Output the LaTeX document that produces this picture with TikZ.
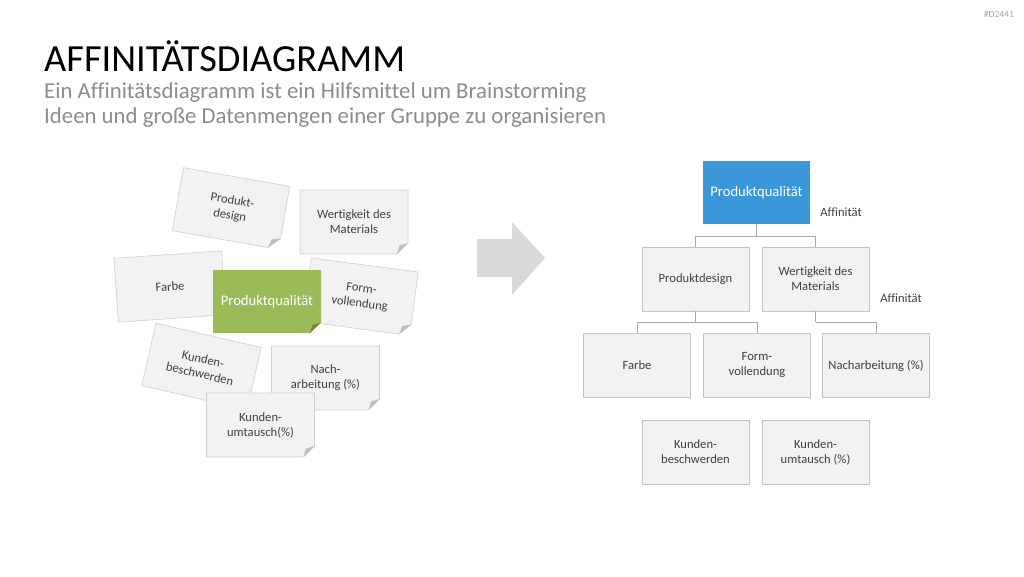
\documentclass[tikz,border=0pt]{standalone}
\usepackage{fontspec}
\setmainfont{Carlito}[Ligatures=NoCommon]
\definecolor{cardfill}{HTML}{F2F2F2}
\definecolor{cardline}{HTML}{CFCFCF}
\definecolor{foldgray}{HTML}{BFBFBF}
\definecolor{greenfill}{HTML}{9BBB59}
\definecolor{greenfold}{HTML}{6F8C37}
\definecolor{bluefill}{HTML}{3A97DA}
\definecolor{txt}{HTML}{404040}
\definecolor{subgray}{HTML}{8C8C8C}
\definecolor{arrowgray}{HTML}{D9D9D9}
\definecolor{conn}{HTML}{A6A6A6}
\definecolor{boxline}{HTML}{C4C4C4}
\tikzset{
  cardtext/.style={align=center, font=\fontsize{12.6}{15}\selectfont, text=txt, inner sep=0pt},
  rbox/.style={draw=boxline, fill=cardfill, line width=0.8pt, minimum width=107pt, minimum height=64pt, align=center, font=\fontsize{12.6}{15}\selectfont, text=txt, inner sep=2pt},
  bluebox/.style={rbox, draw=none, fill=bluefill, text=white, font=\fontsize{14.6}{17}\selectfont, minimum height=63pt},
  connector/.style={draw=conn, line width=1pt},
  afflabel/.style={font=\fontsize{12.6}{14}\selectfont, text=txt}
}
\newcommand\stickynote[7]{%
 \begin{scope}[shift={(#2,-#3)},rotate=#4]
  \filldraw[draw=cardline, line width=0.6pt, fill=#5] (-54,32) -- (54,32) -- (54,-21) -- (43,-32) -- (-54,-32) -- cycle;
  \fill[#6] (54,-21) -- (43,-32) -- (45.5,-23.5) -- cycle;
  \node[cardtext, rotate=#4] (#1) at (0,0) {#7};
 \end{scope}}
\begin{document}
\begin{tikzpicture}[x=1pt,y=1pt]
\useasboundingbox (0,0) rectangle (1024,-576);
% header
\node[anchor=base east, inner sep=0pt, font=\fontsize{9.5}{11}\selectfont, text=conn] (code) at (1014,-17) {\#D2441};
\node[anchor=base west, inner sep=0pt, font=\fontsize{38.4}{42}\selectfont, text=black] (title) at (44,-71) {AFFINITÄTSDIAGRAMM};
\node[anchor=base west, inner sep=0pt, font=\fontsize{22.8}{26}\selectfont, text=subgray] (sub1) at (44,-98) {Ein Affinitätsdiagramm ist ein Hilfsmittel um Brainstorming};
\node[anchor=base west, inner sep=0pt, font=\fontsize{22.8}{26}\selectfont, text=subgray] (sub2) at (44,-123) {Ideen und große Datenmengen einer Gruppe zu organisieren};
% left: scattered notes
\stickynote{lpd}{231}{208.5}{-10}{cardfill}{foldgray}{Produkt-\\design}
\stickynote{lwm}{354}{222}{0}{cardfill}{foldgray}{Wertigkeit des\\Materials}
\stickynote{lfa}{170}{286.5}{4}{cardfill}{foldgray}{Farbe}
\stickynote{lfv}{360.5}{296.7}{-7.5}{cardfill}{foldgray}{Form-\\vollendung}
\begin{scope}[shift={(267,-301.5)}]
  \fill[greenfill] (-54,31.5) -- (54,31.5) -- (54,-21) -- (43,-31.5) -- (-54,-31.5) -- cycle;
  \fill[greenfold] (54,-21) -- (43,-31.5) -- (45.5,-23.5) -- cycle;
  \node[font=\fontsize{14.6}{17}\selectfont, text=white] (lpq) at (0,0) {Produktqualität};
\end{scope}
\stickynote{lkb}{201.5}{366.5}{-13}{cardfill}{foldgray}{Kunden-\\beschwerden}
\stickynote{lna}{325.5}{378}{0}{cardfill}{foldgray}{Nach-\\arbeitung (\%)}
\stickynote{lku}{260.5}{425}{0}{cardfill}{foldgray}{Kunden-\\umtausch(\%)}
% arrow
\fill[arrowgray] (477,-239) -- (512,-239) -- (512,-222) -- (545,-258) -- (512,-295) -- (512,-277) -- (477,-277) -- cycle;
% right: hierarchy
\node[bluebox] (pq) at (756.5,-192.5) {Produktqualität};
\node[rbox] (pd) at (695.5,-279) {Produktdesign};
\node[rbox] (wm) at (815.5,-279) {Wertigkeit des\\Materials};
\node[rbox] (fa) at (637,-365.5) {Farbe};
\node[rbox] (fv) at (757,-365.5) {Form-\\vollendung};
\node[rbox] (na) at (876,-365.5) {Nacharbeitung (\%)};
\node[rbox] (kb) at (695.5,-452) {Kunden-\\beschwerden};
\node[rbox] (ku) at (815.5,-452) {Kunden-\\umtausch (\%)};
\node[afflabel] (aff1) at (841,-212) {Affinität};
\node[afflabel] (aff2) at (901,-298) {Affinität};
\draw[connector] (pq.south) -- ([yshift=-12pt]pq.south) coordinate (j1);
\draw[connector] (j1) -| (pd.north);
\draw[connector] (j1) -| (wm.north);
\draw[connector] (pd.south) -- ([yshift=-11pt]pd.south) coordinate (j2);
\draw[connector] (j2) -| (fa.north);
\draw[connector] (j2) -| (fv.north);
\draw[connector] (wm.south) -- ([yshift=-11pt]wm.south) coordinate (j3);
\draw[connector] (j3) -| (na.north);
\end{tikzpicture}
\end{document}
